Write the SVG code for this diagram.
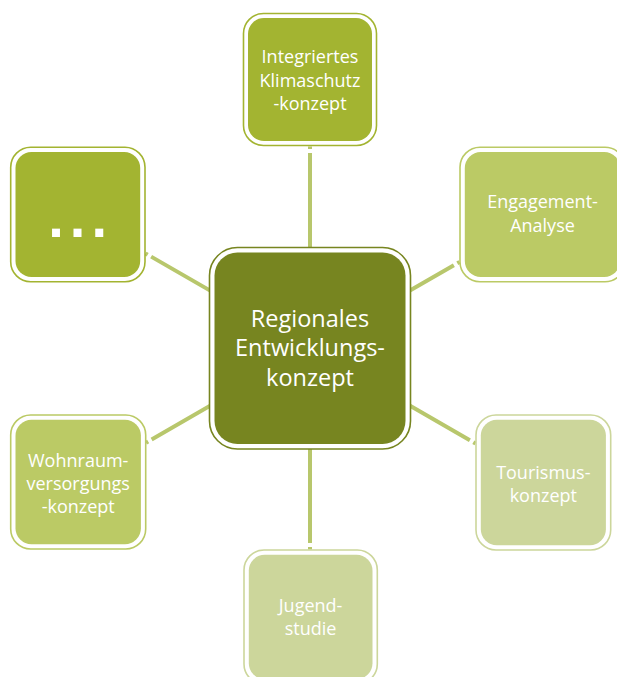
<svg xmlns="http://www.w3.org/2000/svg" width="617" height="677" viewBox="0 0 617 677">
  <style>
    .link { fill: none; stroke: #b8c76c; stroke-width: 4; stroke-dasharray: 2.5 4 400; }
    .ring { fill: #ffffff; stroke-width: 1.6; }
    .lbl { font-family: "Open Sans", "Noto Sans", "DejaVu Sans", sans-serif; font-size: 18px; fill: #ffffff; text-anchor: middle; }
    .hub-lbl { font-size: 23.5px; }
    .c-dark { fill: #778520; stroke: #778520; }
    .c-mid { fill: #a3b431; stroke: #a3b431; }
    .c-light { fill: #bbca65; stroke: #bbca65; }
    .c-pale { fill: #ccd69b; stroke: #ccd69b; }
    .ring.c-dark, .ring.c-mid, .ring.c-light, .ring.c-pale { fill: #ffffff; }
    .body { stroke: none; }
  </style>
  <rect width="617" height="677" fill="#ffffff"/>

  <!-- spokes from the hub to each satellite -->
  <g id="connectors">
    <path class="link" d="M310,146.5 L310,348"/>
    <path class="link" d="M145.5,253.4 L310,348"/>
    <path class="link" d="M459.5,262 L310,348"/>
    <path class="link" d="M475.5,443.4 L310,348"/>
    <path class="link" d="M146,442.8 L310,348"/>
    <path class="link" d="M310,549.5 L310,348"/>
  </g>

  <!-- hub -->
  <g id="node-rek">
    <rect class="ring c-dark" x="209.5" y="247.5" width="201" height="201.5" rx="28"/>
    <rect class="body c-dark" x="214.5" y="252.5" width="191" height="191.5" rx="23"/>
    <text class="lbl hub-lbl" x="310" y="327">Regionales</text>
    <text class="lbl hub-lbl" x="310" y="356.3">Entwicklungs-</text>
    <text class="lbl hub-lbl" x="310" y="385.6">konzept</text>
  </g>

  <g id="node-klimaschutz">
    <rect class="ring c-mid" x="243.5" y="13.5" width="133" height="132" rx="20"/>
    <rect class="body c-mid" x="248" y="18" width="124" height="123" rx="16"/>
    <text class="lbl" x="310" y="63.3">Integriertes</text>
    <text class="lbl" x="310" y="86.7">Klimaschutz</text>
    <text class="lbl" x="310" y="110">-konzept</text>
  </g>

  <g id="node-more">
    <rect class="ring c-mid" x="10.7" y="147.3" width="134.3" height="134.4" rx="20"/>
    <rect class="body c-mid" x="15.5" y="152.1" width="124.7" height="124.8" rx="16"/>
    <text x="48.2" y="237.3" font-family="'Liberation Sans', Arial, sans-serif" font-size="56" font-weight="bold" letter-spacing="6.1" fill="#ffffff">...</text>
  </g>

  <g id="node-engagement">
    <rect class="ring c-light" x="460" y="147.3" width="165" height="134.4" rx="20"/>
    <rect class="body c-light" x="464.8" y="152.1" width="155.4" height="124.8" rx="16"/>
    <text class="lbl" x="542.5" y="208.3">Engagement-</text>
    <text class="lbl" x="542.5" y="231.7">Analyse</text>
  </g>

  <g id="node-tourismus">
    <rect class="ring c-pale" x="476" y="415" width="134.7" height="135" rx="20"/>
    <rect class="body c-pale" x="480.8" y="419.8" width="125.1" height="125.4" rx="16"/>
    <text class="lbl" x="543.3" y="479">Tourismus-</text>
    <text class="lbl" x="543.3" y="502">konzept</text>
  </g>

  <g id="node-wohnraum">
    <rect class="ring c-light" x="10.7" y="415" width="135" height="134" rx="20"/>
    <rect class="body c-light" x="15.5" y="419.8" width="125.4" height="124.4" rx="16"/>
    <text class="lbl" x="78.2" y="466.7">Wohnraum-</text>
    <text class="lbl" x="78.2" y="489.6">versorgungs</text>
    <text class="lbl" x="78.2" y="512.6">-konzept</text>
  </g>

  <g id="node-jugend">
    <rect class="ring c-pale" x="244" y="550" width="133.3" height="134" rx="20"/>
    <rect class="body c-pale" x="248.8" y="554.8" width="123.7" height="124.4" rx="16"/>
    <text class="lbl" x="310.6" y="611.7">Jugend-</text>
    <text class="lbl" x="310.6" y="635">studie</text>
  </g>
</svg>
